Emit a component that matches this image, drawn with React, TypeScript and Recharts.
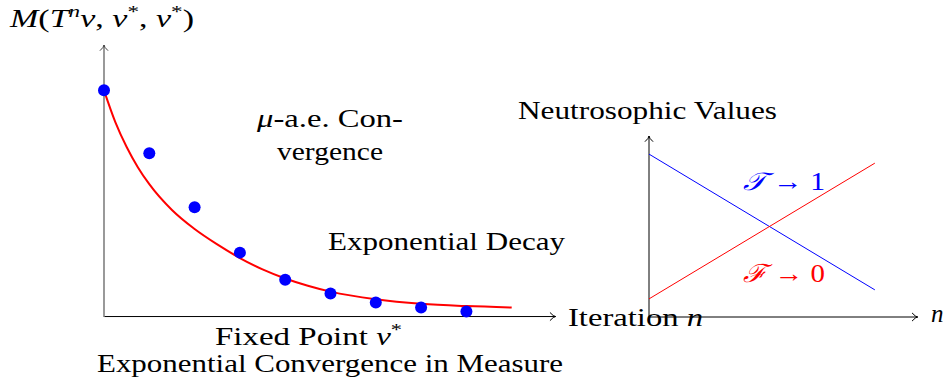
import React from 'react';
import { ComposedChart, Line, XAxis, YAxis, ReferenceLine } from 'recharts';

// Left panel: exponential decay curve
const curveN = [0, 0.25, 0.5, 0.75, 1, 1.5, 2, 2.5, 3, 3.5, 4, 4.5, 5, 6, 7, 8, 9];
const curveV = [5.0, 4.3, 3.75, 3.3, 2.93, 2.36, 1.94, 1.6, 1.3, 1.05, 0.85, 0.69, 0.56, 0.39, 0.29, 0.24, 0.21];

// Left panel: iterates (blue dots)
const iterN = [0, 1, 2, 3, 4, 5, 6, 7, 8];
const iterV = [5.0, 3.61, 2.42, 1.42, 0.82, 0.52, 0.32, 0.21, 0.12];

// Right panel: neutrosophic values
const neutroN = [0, 5];
const truthV = [0.9, 0.15];
const falsityV = [0.1, 0.85];

const curveData = curveN.map((n, i) => ({ n, v: curveV[i] }));
const iterData = iterN.map((n, i) => ({ n, v: iterV[i] }));
const truthData = neutroN.map((n, i) => ({ n, v: truthV[i] }));
const falsityData = neutroN.map((n, i) => ({ n, v: falsityV[i] }));

const W = 949;
const H = 387;
const FONT = 'Liberation Serif';
const T = { fontFamily: FONT, fontSize: 25 } as const;

const arrowShape = (color: string, width: number, headColor: string) => (p: any) => {
  const { x1, y1, x2, y2 } = p;
  const ang = Math.atan2(y2 - y1, x2 - x1);
  const L = 7;
  const A = 0.62;
  const ax = x2 - L * Math.cos(ang - A);
  const ay = y2 - L * Math.sin(ang - A);
  const bx = x2 - L * Math.cos(ang + A);
  const by = y2 - L * Math.sin(ang + A);
  const cx = x2 - 2 * Math.cos(ang);
  const cy = y2 - 2 * Math.sin(ang);
  return (
    <g>
      <line x1={x1} y1={y1} x2={x2} y2={y2} stroke={color} strokeWidth={width} />
      <path d={`M${ax},${ay} Q${cx},${cy} ${x2},${y2} Q${cx},${cy} ${bx},${by}`} fill="none" stroke={headColor} strokeWidth={1} />
    </g>
  );
};

const plainLine = (color: string, width: number, dash?: string) => (p: any) => (
  <line x1={p.x1} y1={p.y1} x2={p.x2} y2={p.y2} stroke={color} strokeWidth={width} strokeDasharray={dash} />
);

export default function App() {
  return (
    <div style={{ position: 'absolute', left: 0, top: 0, width: W, height: H, background: '#fff' }}>
      {/* Left panel */}
      <div style={{ position: 'absolute', left: 0, top: 0 }}>
        <ComposedChart width={W} height={H} margin={{ left: 104, right: 392, top: 45, bottom: 70 }}>
          <XAxis type="number" dataKey="n" domain={[0, 10]} hide />
          <YAxis type="number" dataKey="v" domain={[0, 6]} hide />
          <ReferenceLine segment={[{ x: 0, y: -0.02 }, { x: 9.9, y: -0.02 }]} shape={plainLine('#c8c8c8', 1, '7 4')} />
          <ReferenceLine segment={[{ x: 0, y: 0.01 }, { x: 9.97, y: 0.01 }]} shape={arrowShape('#000', 1, '#000')} />
          <ReferenceLine segment={[{ x: 0, y: 0 }, { x: 0, y: 6 }]} shape={arrowShape('#808080', 1.6, '#444')} />
          <Line data={curveData} dataKey="v" type="monotone" stroke="#ff0000" strokeWidth={2} dot={false} activeDot={false} isAnimationActive={false} />
          <Line data={iterData} dataKey="v" stroke="none" strokeWidth={0} dot={{ r: 6, fill: '#0000ff', stroke: 'none' }} activeDot={false} isAnimationActive={false} />
        </ComposedChart>
      </div>
      {/* Right panel */}
      <div style={{ position: 'absolute', left: 0, top: 0 }}>
        <ComposedChart width={W} height={H} margin={{ left: 649, right: 29, top: 136, bottom: 70 }}>
          <XAxis type="number" dataKey="n" domain={[0, 6]} hide />
          <YAxis type="number" dataKey="v" domain={[0, 1]} hide />
          <ReferenceLine segment={[{ x: 0, y: 0 }, { x: 5.95, y: 0 }]} shape={arrowShape('#000', 1, '#000')} />
          <ReferenceLine segment={[{ x: 0, y: 0 }, { x: 0, y: 1 }]} shape={arrowShape('#000', 1, '#000')} />
          <Line data={truthData} dataKey="v" type="linear" stroke="#0000ff" strokeWidth={1} dot={false} activeDot={false} isAnimationActive={false} />
          <Line data={falsityData} dataKey="v" type="linear" stroke="#ff0000" strokeWidth={1} dot={false} activeDot={false} isAnimationActive={false} />
        </ComposedChart>
      </div>
      {/* Annotations */}
      <svg width={W} height={H} style={{ position: 'absolute', left: 0, top: 0, pointerEvents: 'none' }}>
        <text {...T} x={10} y={27} textLength={184} lengthAdjust="spacingAndGlyphs">
          <tspan fontStyle="italic">M</tspan>(<tspan fontStyle="italic">T</tspan>
          <tspan fontStyle="italic" fontSize={17} dy={-10}>n</tspan>
          <tspan fontStyle="italic" dy={10}>v</tspan>, <tspan fontStyle="italic">v</tspan>
          <tspan fontSize={17} dy={-10}>*</tspan>
          <tspan dy={10}>, </tspan><tspan fontStyle="italic">v</tspan>
          <tspan fontSize={17} dy={-10}>*</tspan>
          <tspan dy={10}>)</tspan>
        </text>
        <text {...T} x={257} y={127} textLength={146} lengthAdjust="spacingAndGlyphs"><tspan fontStyle="italic">μ</tspan>-a.e.  Con-</text>
        <text {...T} x={277} y={160} textLength={106} lengthAdjust="spacingAndGlyphs">vergence</text>
        <text {...T} x={328} y={250} textLength={237} lengthAdjust="spacingAndGlyphs">Exponential Decay</text>
        <text {...T} x={568} y={326} textLength={135} lengthAdjust="spacingAndGlyphs">Iteration <tspan fontStyle="italic">n</tspan></text>
        <text {...T} x={215} y={345} textLength={187} lengthAdjust="spacingAndGlyphs">Fixed Point <tspan fontStyle="italic">v</tspan><tspan fontSize={17} dy={-10}>*</tspan></text>
        <text {...T} x={97} y={372} textLength={466} lengthAdjust="spacingAndGlyphs">Exponential Convergence in Measure</text>
        <text {...T} x={518} y={119} textLength={259} lengthAdjust="spacingAndGlyphs">Neutrosophic Values</text>
        <text {...T} x={743} y={190} fill="#0000ff" textLength={82} lengthAdjust="spacingAndGlyphs"><tspan fontStyle="italic">𝒯</tspan> → 1</text>
        <text {...T} x={743} y={282} fill="#ff0000" textLength={82} lengthAdjust="spacingAndGlyphs"><tspan fontStyle="italic">ℱ</tspan> → 0</text>
        <text {...T} x={931} y={322} fontStyle="italic">n</text>
      </svg>
    </div>
  );
}
